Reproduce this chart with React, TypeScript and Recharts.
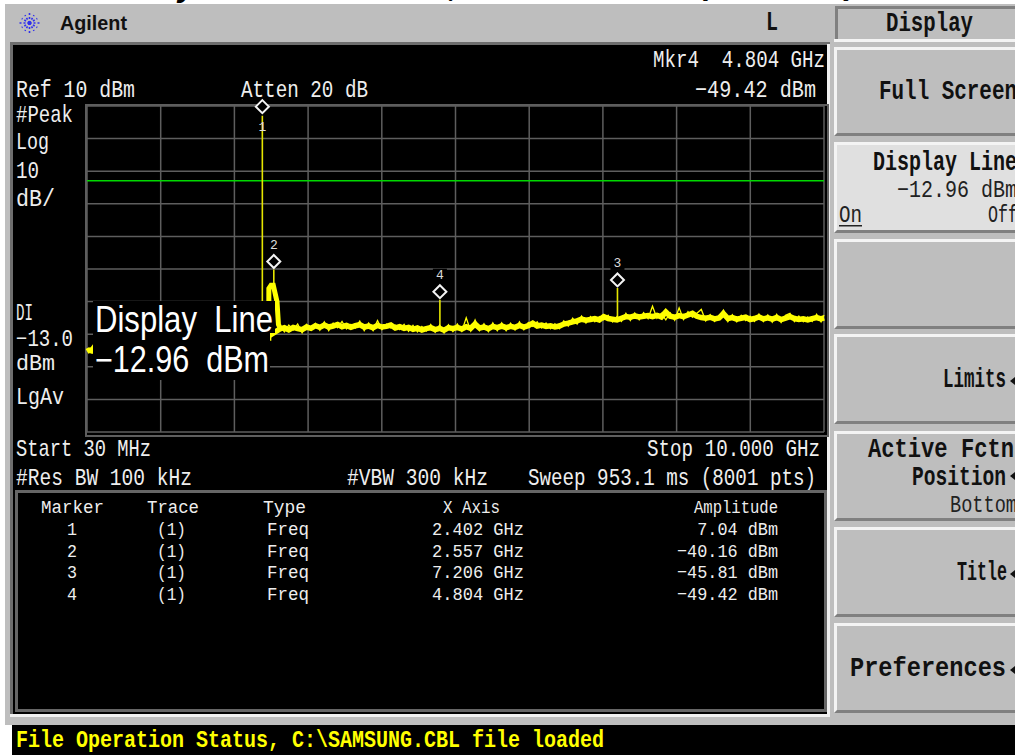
import { CartesianGrid, ComposedChart, Line, ReferenceLine, Scatter, XAxis, YAxis } from "recharts";

const MONO = "'Liberation Mono', monospace";
const SANS = "'Liberation Sans', sans-serif";

const gridFreq = [0.03, 1.027, 2.024, 3.021, 4.018, 5.015, 6.012, 7.009, 8.006, 9.003, 10];
const gridAmp = [10, 0, -10, -20, -30, -40, -50, -60, -70, -80, -90];
const displayLine = -12.96;

const markerNum = ["1", "2", "3", "4"];
const markerFreq = [2.402, 2.557, 7.206, 4.804];
const markerAmp = [7.04, -40.16, -45.81, -49.42];

// left stub, hidden part under the active function box, then the noise floor
const leadFreq = [0.03, 0.06, 0.09, 0.13, 0.5, 1.0, 1.5, 2.0, 2.4];
const leadAmp = [-65.3, -64.9, -65.1, -63.9, -63.4, -63.0, -62.6, -62.2, -61.8];
const floorFreq = [
  2.64, 2.7, 2.76, 2.82, 2.88, 2.94, 3.0, 3.06, 3.12, 3.18,
  3.24, 3.3, 3.36, 3.42, 3.48, 3.54, 3.6, 3.66, 3.72, 3.78,
  3.84, 3.9, 3.96, 4.02, 4.08, 4.14, 4.2, 4.26, 4.32, 4.38,
  4.44, 4.5, 4.56, 4.62, 4.68, 4.74, 4.8, 4.86, 4.92, 4.98,
  5.04, 5.1, 5.16, 5.22, 5.28, 5.34, 5.4, 5.46, 5.52, 5.58,
  5.64, 5.7, 5.76, 5.82, 5.88, 5.94, 6.0, 6.06, 6.12, 6.18,
  6.24, 6.3, 6.36, 6.42, 6.48, 6.54, 6.6, 6.66, 6.72, 6.78,
  6.84, 6.9, 6.96, 7.02, 7.08, 7.14, 7.2, 7.26, 7.32, 7.38,
  7.44, 7.5, 7.56, 7.62, 7.68, 7.74, 7.8, 7.86, 7.92, 7.98,
  8.04, 8.1, 8.16, 8.22, 8.28, 8.34, 8.4, 8.46, 8.52, 8.58,
  8.64, 8.7, 8.76, 8.82, 8.88, 8.94, 9.0, 9.06, 9.12, 9.18,
  9.24, 9.3, 9.36, 9.42, 9.48, 9.54, 9.6, 9.66, 9.72, 9.78,
  9.84, 9.9, 9.96, 10.0,
];
const floorAmp = [
  -58.4, -58.0, -58.7, -57.9, -58.3, -58.6, -57.8, -58.2, -57.4, -57.9,
  -57.2, -57.8, -57.5, -57.0, -57.7, -57.3, -57.9, -57.4, -57.1, -57.8,
  -57.5, -58.0, -57.3, -57.8, -57.6, -57.2, -58.1, -57.7, -58.2, -57.9,
  -58.5, -58.1, -58.7, -58.3, -58.0, -58.6, -58.2, -58.8, -58.0, -58.3,
  -57.9, -58.4, -57.7, -58.2, -56.9, -58.1, -57.8, -58.3, -57.6, -58.0,
  -57.5, -58.0, -57.6, -57.9, -57.3, -57.8, -57.4, -56.6, -57.5, -57.2,
  -57.6, -57.4, -57.8, -57.5, -56.9, -56.6, -56.2, -55.9, -55.4, -55.7,
  -55.5, -55.2, -55.6, -54.6, -55.2, -55.4, -55.6, -55.1, -54.6, -54.8,
  -54.4, -54.7, -54.5, -54.3, -54.6, -54.2, -54.7, -53.2, -54.5, -54.8,
  -54.3, -54.6, -54.1, -53.6, -54.5, -54.9, -55.1, -54.8, -55.3, -55.0,
  -53.7, -55.2, -54.9, -55.4, -55.1, -54.8, -55.5, -55.2, -54.7, -55.3,
  -55.0, -55.4, -54.9, -55.5, -55.1, -54.6, -55.2, -55.5, -55.3, -55.6,
  -55.2, -54.9, -55.3, -55.0,
];
// peak envelope of the sweep, drawn thin over the same frequencies
const grassAmp = [
  -57.4, -59.3, -57.2, -58.7, -56.9, -59.6, -57.0, -58.6, -56.7, -58.8,
  -56.2, -58.9, -56.6, -58.0, -56.1, -58.4, -57.0, -58.1, -56.0, -58.9,
  -56.6, -58.9, -55.8, -58.6, -56.9, -58.1, -57.2, -58.6, -57.0, -59.1,
  -57.3, -59.3, -57.6, -59.0, -57.0, -59.4, -57.2, -59.6, -57.1, -59.2,
  -56.9, -59.1, -55.0, -59.0, -55.6, -58.9, -56.8, -59.2, -56.5, -58.9,
  -56.5, -58.9, -56.6, -58.7, -56.2, -58.6, -56.4, -57.6, -56.2, -58.1,
  -56.6, -58.3, -56.8, -58.3, -55.9, -57.5, -55.1, -56.9, -54.4, -56.6,
  -54.6, -56.2, -54.6, -55.6, -54.2, -56.2, -54.6, -56.1, -53.6, -55.8,
  -53.5, -55.6, -53.4, -55.2, -51.4, -55.1, -53.6, -55.6, -53.5, -55.7,
  -51.9, -55.5, -53.1, -54.8, -53.6, -52.4, -55.9, -54.0, -56.1, -54.4,
  -52.6, -56.1, -54.0, -56.2, -54.2, -55.8, -54.5, -56.1, -53.8, -56.1,
  -54.1, -56.3, -53.9, -56.4, -54.2, -53.6, -56.1, -54.4, -56.2, -54.7,
  -56.1, -53.9, -56.2, -54.1,
];
const skirtFreq = [2.49, 2.49, 2.52, 2.55, 2.57, 2.6, 2.62, 2.64];
const skirtAmp = [-62, -46, -45, -45, -47, -50, -57, -58];
const stemFreq = [2.402, 2.402, 2.45, 2.557, 2.557, 3.0, 4.804, 4.804, 5.0, 7.206, 7.206];
const stemAmp = [-61, 7.04, null, -46, -40.16, null, -58, -49.42, null, -55, -45.81];

const pts = (f: number[], a: (number | null)[]) => f.map((v, i) => ({ f: v, a: a[i] }));
const traceData = pts([...leadFreq, ...floorFreq], [...leadAmp, ...floorAmp]);
const grassData = pts(floorFreq, grassAmp);
const skirtData = pts(skirtFreq, skirtAmp);
const stemData = pts(stemFreq, stemAmp);
const markerData = markerFreq.map((f, i) => ({ f, a: markerAmp[i], n: markerNum[i] }));

function MarkerShape(props: any) {
  const { cx, cy, payload } = props;
  const up = payload.n === "1" ? -9 : -8;
  const d = cy + up;
  const r = 6.5;
  const numY = payload.n === "1" ? cy + 15 : cy - 21;
  return (
    <g>
      {payload.n !== "1" && <rect x={cx - 7} y={numY - 10} width={14} height={13} fill="#000" />}
      <polygon
        points={`${cx},${d - r} ${cx + r},${d} ${cx},${d + r} ${cx - r},${d}`}
        fill="#000"
        stroke="#f4f4f4"
        strokeWidth={2}
      />
      <text x={cx} y={numY} textAnchor="middle" fontFamily={MONO} fontSize={13} fill="#ddd">
        {payload.n}
      </text>
    </g>
  );
}

function T({ x, y, w, size = 24, bold = false, fill = "#eeeeee", font = MONO, children }: any) {
  return (
    <text
      x={x}
      y={y}
      textLength={w}
      lengthAdjust="spacingAndGlyphs"
      fontFamily={font}
      fontSize={size}
      fontWeight={bold ? 700 : 400}
      fill={fill}
      xmlSpace="preserve"
    >
      {children}
    </text>
  );
}

function Box({ l, t, w, h, bg, style }: any) {
  return <div style={{ position: "absolute", left: l, top: t, width: w, height: h, background: bg, ...style }} />;
}

function Key({ t, h, bg = "#bebebe" }: any) {
  return (
    <div
      style={{
        position: "absolute",
        left: 834,
        top: t,
        width: 181,
        height: h - 6,
        background: bg,
        borderTop: "3px solid #f4f4f4",
        borderLeft: "3px solid #f4f4f4",
        borderBottom: "3px solid #808080",
      }}
    />
  );
}

const arrow = (y: number) => <polygon points={`1015,${y - 4} 1015,${y + 4} 1010,${y}`} fill="#111" />;

const burstAngles = [0, 30, 60, 90, 120, 150, 180, 210, 240, 270, 300, 330];

export default function App() {
  return (
    <div style={{ position: "fixed", left: 0, top: 0, width: 1015, height: 755, overflow: "hidden", background: "#fff" }}>
      <Box l={5} t={4} w={1010} h={721} bg="#bebebe" />
      <Box l={10} t={42} w={820} h={675} bg="#6e6e6e" />
      <Box l={827} t={44} w={3} h={673} bg="#f0f0f0" />
      <Box l={10} t={714} w={820} h={3} bg="#f0f0f0" />
      <Box l={13} t={45} w={814} h={669} bg="#000" />
      <Box l={15} t={490} w={806} h={216} bg="#000" style={{ border: "3px solid #666" }} />
      <Box l={12} t={725} w={1003} h={30} bg="#000" />
      <Box l={835} t={6} w={180} h={33} bg="#bebebe" style={{ borderLeft: "3px solid #808080", borderTop: "3px solid #808080", boxSizing: "border-box" }} />
      <Box l={834} t={39} w={181} h={3} bg="#f4f4f4" />
      <Key t={47} h={89} />
      <Key t={142} h={91} bg="#e0e0e0" />
      <Key t={239} h={90} />
      <Key t={334} h={90} />
      <Key t={431} h={90} />
      <Key t={527} h={90} />
      <Key t={623} h={90} />
      <Box l={85} t={104} w={740} h={329} bg="transparent" style={{ border: "2px solid #5e5e5e" }} />

      <div style={{ position: "absolute", left: 0, top: 0 }}>
        <ComposedChart width={1015} height={755} margin={{ top: 106, right: 191, bottom: 323, left: 87 }} data={traceData}>
          <XAxis type="number" dataKey="f" domain={[0.03, 10]} hide />
          <YAxis type="number" dataKey="a" domain={[-90, 10]} hide />
          <CartesianGrid stroke="#5e5e5e" strokeWidth={1.5} verticalValues={gridFreq} horizontalValues={gridAmp} />
          <ReferenceLine y={displayLine} stroke="#00d800" strokeWidth={1.5} />
          <Line data={stemData} dataKey="a" stroke="#e6e600" strokeWidth={1.6} dot={false} isAnimationActive={false} connectNulls={false} />
          <Line data={skirtData} dataKey="a" stroke="#ffff00" strokeWidth={5} dot={false} isAnimationActive={false} />
          <Line dataKey="a" stroke="#ffff00" strokeWidth={5.5} dot={false} isAnimationActive={false} />
          <Line data={grassData} dataKey="a" stroke="#ffff00" strokeWidth={1.3} dot={false} isAnimationActive={false} />
          <Scatter data={markerData} dataKey="a" shape={MarkerShape} isAnimationActive={false} />
        </ComposedChart>
      </div>

      <svg width={1015} height={755} style={{ position: "absolute", left: 0, top: 0 }}>
        {/* clipped page heading above the screenshot */}
        <clipPath id="headClip">
          <rect x={0} y={0} width={1015} height={4} />
        </clipPath>
        <g clipPath="url(#headClip)" fontFamily={SANS} fontSize={32} fontWeight={700} fontStyle="italic" fill="#000">
          <text x={178} y={-4}>y</text>
          <text x={449} y={-4}>,</text>
          <text x={700} y={-6}>(</text>
          <text x={846} y={-6}>)</text>
        </g>

        {/* logo */}
        <g stroke="#3030ee" strokeWidth={1.6} strokeDasharray="2 2">
          {burstAngles.map((ang) => (
            <line
              key={ang}
              x1={29.5}
              y1={23}
              x2={29.5 + (ang % 90 === 0 ? 12 : 9) * Math.cos((ang * Math.PI) / 180)}
              y2={23 + (ang % 90 === 0 ? 12 : 9) * Math.sin((ang * Math.PI) / 180)}
            />
          ))}
        </g>
        <T x={60} y={30} w={67} size={20} bold font={SANS} fill="#111">Agilent</T>
        <T x={766} y={30} w={12} size={27} bold fill="#111">L</T>

        {/* function box on top of the trace */}
        <rect x={93} y={301} width={182} height={32} fill="#000" />
        <rect x={93} y={333} width={177} height={47} fill="#000" />
        <T x={95} y={332} w={178} size={36} font={SANS} fill="#fff">Display  Line</T>
        <T x={95} y={372} w={174} size={36} font={SANS} fill="#fff">−12.96  dBm</T>

        {/* annotations */}
        <T x={653} y={67} w={172}>Mkr4  4.804 GHz</T>
        <T x={695} y={97} w={121}>−49.42 dBm</T>
        <T x={16} y={97} w={119}>Ref 10 dBm</T>
        <T x={241} y={97} w={127}>Atten 20 dB</T>
        <T x={16} y={122} w={57}>#Peak</T>
        <T x={16} y={149} w={33}>Log</T>
        <T x={16} y={178} w={23}>10</T>
        <T x={16} y={206} w={39}>dB/</T>
        <T x={16} y={320} w={17}>DI</T>
        <T x={16} y={346} w={57} size={23}>−13.0</T>
        <T x={16} y={370} w={39} size={22}>dBm</T>
        <T x={16} y={404} w={48}>LgAv</T>
        <T x={16} y={456} w={135}>Start 30 MHz</T>
        <T x={16} y={485} w={176}>#Res BW 100 kHz</T>
        <T x={347} y={485} w={141}>#VBW 300 kHz</T>
        <T x={647} y={456} w={173}>Stop 10.000 GHz</T>
        <T x={528} y={485} w={288}>Sweep 953.1 ms (8001 pts)</T>

        {/* marker table */}
        <T x={41} y={513} w={63} size={19}>Marker</T>
        <T x={147} y={513} w={52} size={19}>Trace</T>
        <T x={263} y={513} w={43} size={19}>Type</T>
        <T x={443} y={513} w={57} size={19}>X Axis</T>
        <T x={694} y={513} w={84} size={19}>Amplitude</T>
        {markerNum.map((n, i) => {
          const y = 535 + i * 21.7;
          const amp = markerAmp[i].toFixed(2).replace("-", "−") + " dBm";
          return (
            <g key={n}>
              <T x={67} y={y} w={10} size={19}>{n}</T>
              <T x={157} y={y} w={29} size={19}>(1)</T>
              <T x={267} y={y} w={42} size={19}>Freq</T>
              <T x={432} y={y} w={92} size={19}>{markerFreq[i].toFixed(3) + " GHz"}</T>
              <T x={778 - amp.length * 10.1} y={y} w={amp.length * 10.1} size={19}>{amp}</T>
            </g>
          );
        })}

        {/* softkeys */}
        <T x={886} y={31} w={87} size={27} bold fill="#111">Display</T>
        <T x={879} y={99} w={138} size={27} bold fill="#111">Full Screen</T>
        <T x={873} y={170} w={144} size={27} bold fill="#111">Display Line</T>
        <T x={897} y={197} w={120} fill="#222">−12.96 dBm</T>
        <T x={839} y={222} w={23} fill="#222">On</T>
        <rect x={839} y={225} width={23} height={1.5} fill="#222" />
        <T x={988} y={222} w={30} fill="#222">Off</T>
        <T x={943} y={387} w={63} size={27} bold fill="#111">Limits</T>
        <T x={868} y={457} w={146} size={27} bold fill="#111">Active Fctn</T>
        <T x={912} y={485} w={94} size={27} bold fill="#111">Position</T>
        <T x={950} y={512} w={67} fill="#222">Bottom</T>
        <T x={957} y={580} w={50} size={27} bold fill="#111">Title</T>
        <T x={850} y={676} w={156} size={27} bold fill="#111">Preferences</T>
        {arrow(381)}
        {arrow(476)}
        {arrow(574)}
        {arrow(670)}

        <T x={16} y={747} w={588} bold fill="#ffff00">File Operation Status, C:\SAMSUNG.CBL file loaded</T>
      </svg>
    </div>
  );
}
